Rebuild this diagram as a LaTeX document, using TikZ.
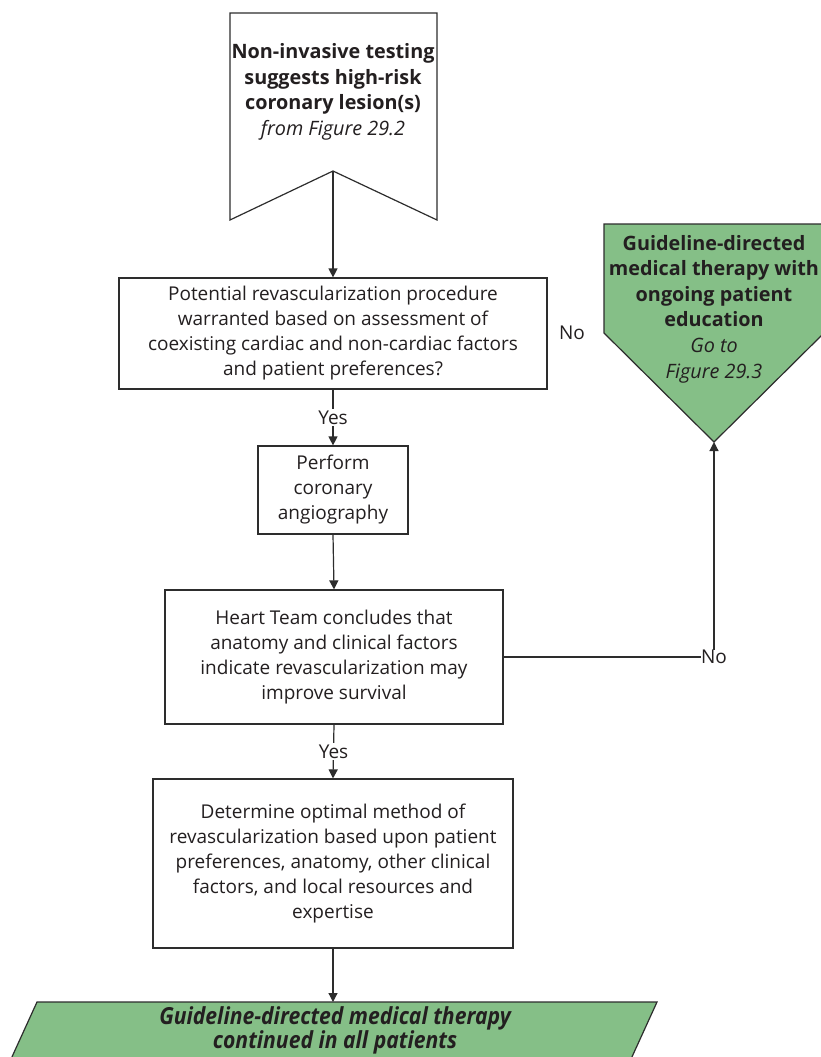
\documentclass[tikz,border=0pt]{standalone}
\usepackage{fontspec}
\setmainfont{Open Sans}
\newfontfamily\condfont[FakeStretch=0.9]{Open Sans}
\usetikzlibrary{arrows.meta}
\definecolor{gfill}{RGB}{133,191,135}
\definecolor{ink}{RGB}{35,31,32}
\definecolor{ln}{RGB}{45,45,45}
\tikzset{
  txt/.style={font=\fontsize{19}{25}\selectfont, text=ink, align=center},
  bigtxt/.style={font=\fontsize{19.8}{25.6}\selectfont, text=ink, align=center},
  box/.style={txt, draw=ln, line width=1.2pt, inner sep=0pt},
  conn/.style={draw=ln, line width=1.2pt},
  arr/.style={conn, -{Triangle[length=9pt,width=9pt]}},
  lbl/.style={txt, fill=white, inner sep=1.5pt},
  shapeline/.style={draw=ln, line width=1.2pt, line join=miter},
}
\begin{document}
\begin{tikzpicture}[x=1pt,y=-1pt]
\useasboundingbox[fill=white] (0,0) rectangle (821,1057);

% top off-page shape
\draw[shapeline, fill=white] (230,13) -- (437,13) -- (437,220) -- (333,171) -- (230,220) -- cycle;
\coordinate (topapex) at (333,171);
\node[bigtxt] (top) at (333,92) {\textbf{Non-invasive testing}\\\textbf{suggests high-risk}\\\textbf{coronary lesion(s)}\\\textit{from Figure 29.2}};

% green off-page shape on the right
\draw[shapeline, fill=gfill] (604,224) -- (824,224) -- (824,333) -- (714,442) -- (604,333) -- cycle;
\coordinate (gapex) at (714,442);
\node[bigtxt] (gdmt) at (714,309) {\textbf{Guideline-directed}\\\textbf{medical therapy with}\\\textbf{ongoing patient}\\\textbf{education}\\\textit{Go to}\\\textit{Figure 29.3}};

% boxes
\node[box, minimum width=428pt, minimum height=111pt] (b2) at (333,333.5)
  {Potential revascularization procedure\\warranted based on assessment of\\coexisting cardiac and non-cardiac factors\\and patient preferences?};
\node[txt] (no1) at (572,333) {No};

\node[box, minimum width=150pt, minimum height=88pt] (b3) at (333,490)
  {Perform\\coronary\\angiography};

\node[box, minimum width=338pt, minimum height=134pt] (b4) at (334,657)
  {Heart Team concludes that\\anatomy and clinical factors\\indicate revascularization may\\improve survival};

\node[box, minimum width=360pt, minimum height=169pt] (b5) at (333,863.5)
  {Determine optimal method of\\revascularization based upon patient\\preferences, anatomy, other clinical\\factors, and local resources and\\expertise};

% bottom parallelogram
\draw[shapeline, fill=gfill] (37,1002) -- (657,1002) -- (626,1070) -- (6,1070) -- cycle;
\coordinate (ptop) at (333,1002);
\node[txt, font=\condfont\fontsize{23.5}{24}\selectfont\bfseries\itshape] (gdmt2) at (335,1030)
  {Guideline-directed medical therapy\\continued in all patients};

% connectors
\draw[arr] (topapex) -- (b2.north);
\draw[arr] (b2.south) -- node[lbl] {Yes} (b3.north);
\draw[arr] (b3.south) -- (b4.north);
\draw[arr] (b4.south) -- node[lbl] {Yes} (b5.north);
\draw[arr] (b5.south) -- (ptop);

\node[txt, inner sep=0pt] (no2) at (714,657) {No};
\draw[conn] (b4.east) -- (no2.west);
\draw[arr] (no2.north) -- (gapex);
\end{tikzpicture}
\end{document}
